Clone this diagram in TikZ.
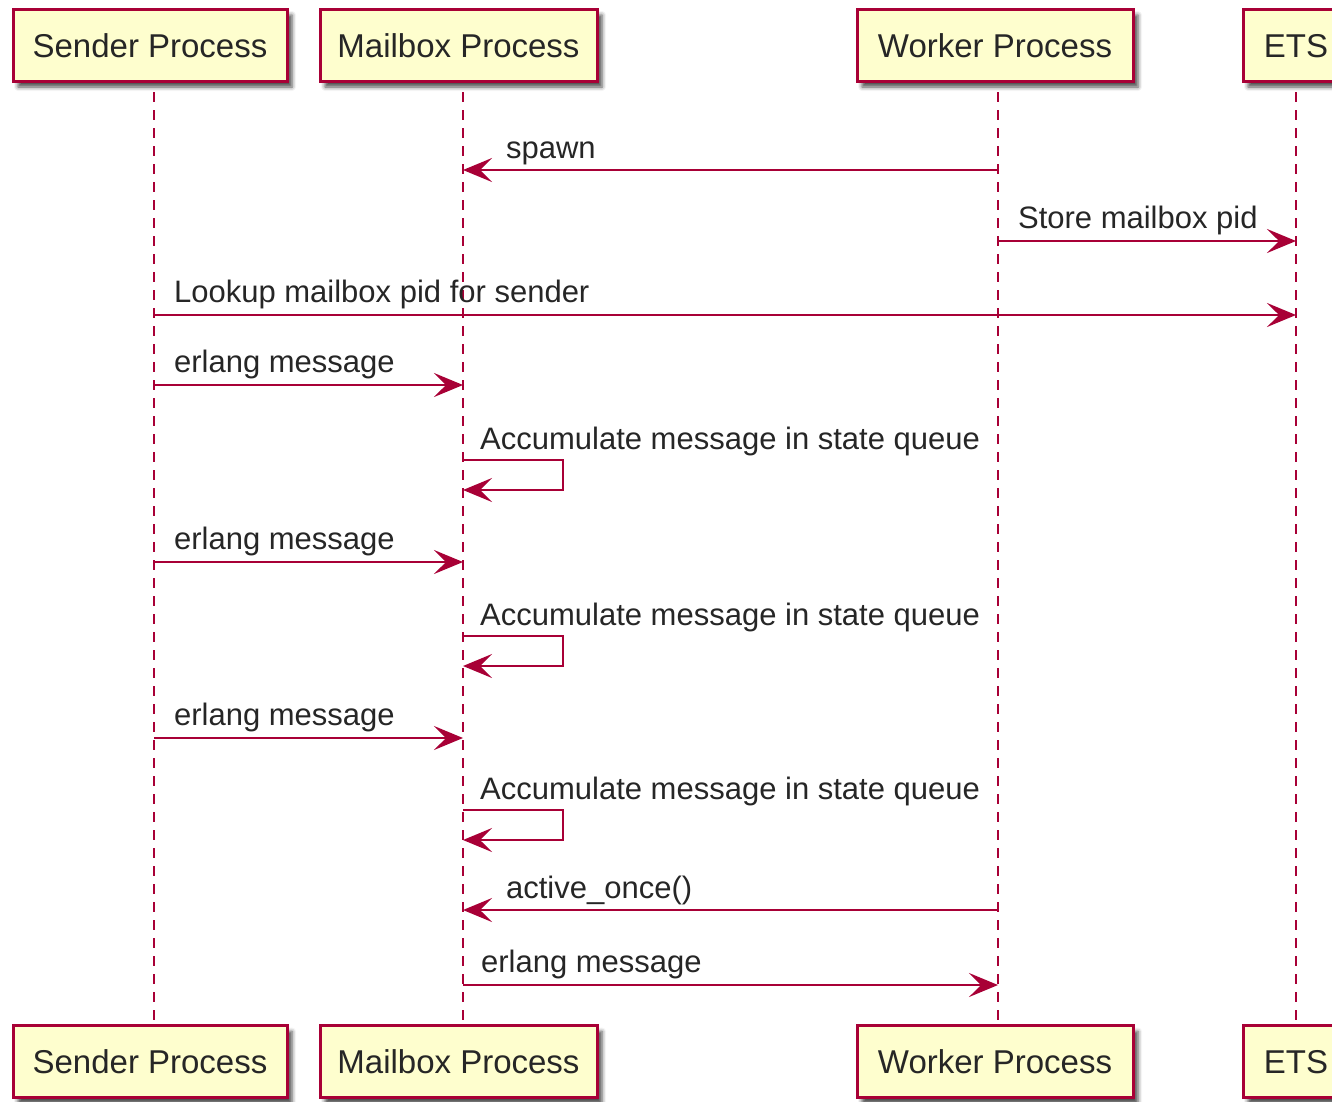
\documentclass[tikz,border=0pt]{standalone}
\usepackage{fontspec}
\setmainfont{Liberation Sans}
\usepackage{tikz}
\usetikzlibrary{arrows.meta, shadows.blur}

\definecolor{umlred}{HTML}{A80036}
\definecolor{umlfill}{HTML}{FEFECE}

\tikzset{
  participant/.style={draw=umlred, fill=umlfill, line width=3pt, minimum height=72pt,
    inner sep=0pt, text depth=0pt, text height=24pt, font=\fontsize{33}{36}\selectfont, text=black!85,
    blur shadow={shadow xshift=5pt, shadow yshift=-6pt, shadow blur radius=4pt, shadow opacity=70}},
  lifeline/.style={umlred, line width=2.2pt, dash pattern=on 10pt off 8pt},
  msg/.style={umlred, line width=2.2pt, -{Stealth[length=29pt, width=24pt, inset=12pt]}},
  msgtext/.style={anchor=base west, inner sep=0pt, font=\fontsize{31}{34}\selectfont, text=black!85}
}

\begin{document}
\begin{tikzpicture}[x=1pt, y=-1pt]

  % Page frame
  \useasboundingbox (0,0) rectangle (1332,1101);

  % Lifeline positions
  \coordinate (sndL) at (154,0);
  \coordinate (mbxL) at (463,0);
  \coordinate (wrkL) at (998,0);
  \coordinate (etsL) at (1296,0);

  % Participants, top row
  \node[participant, minimum width=274pt] (sndTop) at (150,45) {Sender Process};
  \node[participant, minimum width=277pt] (mbxTop) at (458.5,45) {Mailbox Process};
  \node[participant, minimum width=276pt] (wrkTop) at (995,45) {Worker Process};
  \node[participant, minimum width=106pt] (etsTop) at (1296,45) {ETS};

  % Participants, bottom row
  \node[participant, minimum width=274pt] (sndBot) at (150,1061.5) {Sender Process};
  \node[participant, minimum width=277pt] (mbxBot) at (458.5,1061.5) {Mailbox Process};
  \node[participant, minimum width=276pt] (wrkBot) at (995,1061.5) {Worker Process};
  \node[participant, minimum width=106pt] (etsBot) at (1296,1061.5) {ETS};

  % Lifelines
  \draw[lifeline] (sndL |- 0,92) -- (sndL |- sndBot.north);
  \draw[lifeline] (mbxL |- 0,92) -- (mbxL |- mbxBot.north);
  \draw[lifeline] (wrkL |- 0,92) -- (wrkL |- wrkBot.north);
  \draw[lifeline] (etsL |- 0,92) -- (etsL |- etsBot.north);

  % Messages
  \draw[msg] (wrkL |- 0,170) -- (mbxL |- 0,170)
    node[msgtext, at end, xshift=42pt, yshift=12pt] {spawn};
  \draw[msg] (wrkL |- 0,241) -- (etsL |- 0,241)
    node[msgtext, at start, xshift=19pt, yshift=13pt] {Store mailbox pid};
  \draw[msg] (sndL |- 0,315) -- (etsL |- 0,315)
    node[msgtext, at start, xshift=19pt, yshift=13pt] {Lookup mailbox pid for sender};

  \draw[msg] (sndL |- 0,385) -- (mbxL |- 0,385)
    node[msgtext, at start, xshift=19pt, yshift=13pt] {erlang message};
  \draw[msg] (mbxL |- 0,460) -- ++(100,0) -- ++(0,30) -- (mbxL |- 0,490);
  \node[msgtext] (acc1) at ([xshift=17pt]mbxL |- 0,449) {Accumulate message in state queue};

  \draw[msg] (sndL |- 0,562) -- (mbxL |- 0,562)
    node[msgtext, at start, xshift=19pt, yshift=13pt] {erlang message};
  \draw[msg] (mbxL |- 0,636) -- ++(100,0) -- ++(0,30) -- (mbxL |- 0,666);
  \node[msgtext] (acc2) at ([xshift=17pt]mbxL |- 0,625) {Accumulate message in state queue};

  \draw[msg] (sndL |- 0,738) -- (mbxL |- 0,738)
    node[msgtext, at start, xshift=19pt, yshift=13pt] {erlang message};
  \draw[msg] (mbxL |- 0,810) -- ++(100,0) -- ++(0,30) -- (mbxL |- 0,840);
  \node[msgtext] (acc3) at ([xshift=17pt]mbxL |- 0,799) {Accumulate message in state queue};

  \draw[msg] (wrkL |- 0,910) -- (mbxL |- 0,910)
    node[msgtext, at end, xshift=42pt, yshift=12pt] {active\_once()};
  \draw[msg] (mbxL |- 0,985) -- (wrkL |- 0,985)
    node[msgtext, at start, xshift=17pt, yshift=13pt] {erlang message};

\end{tikzpicture}
\end{document}
